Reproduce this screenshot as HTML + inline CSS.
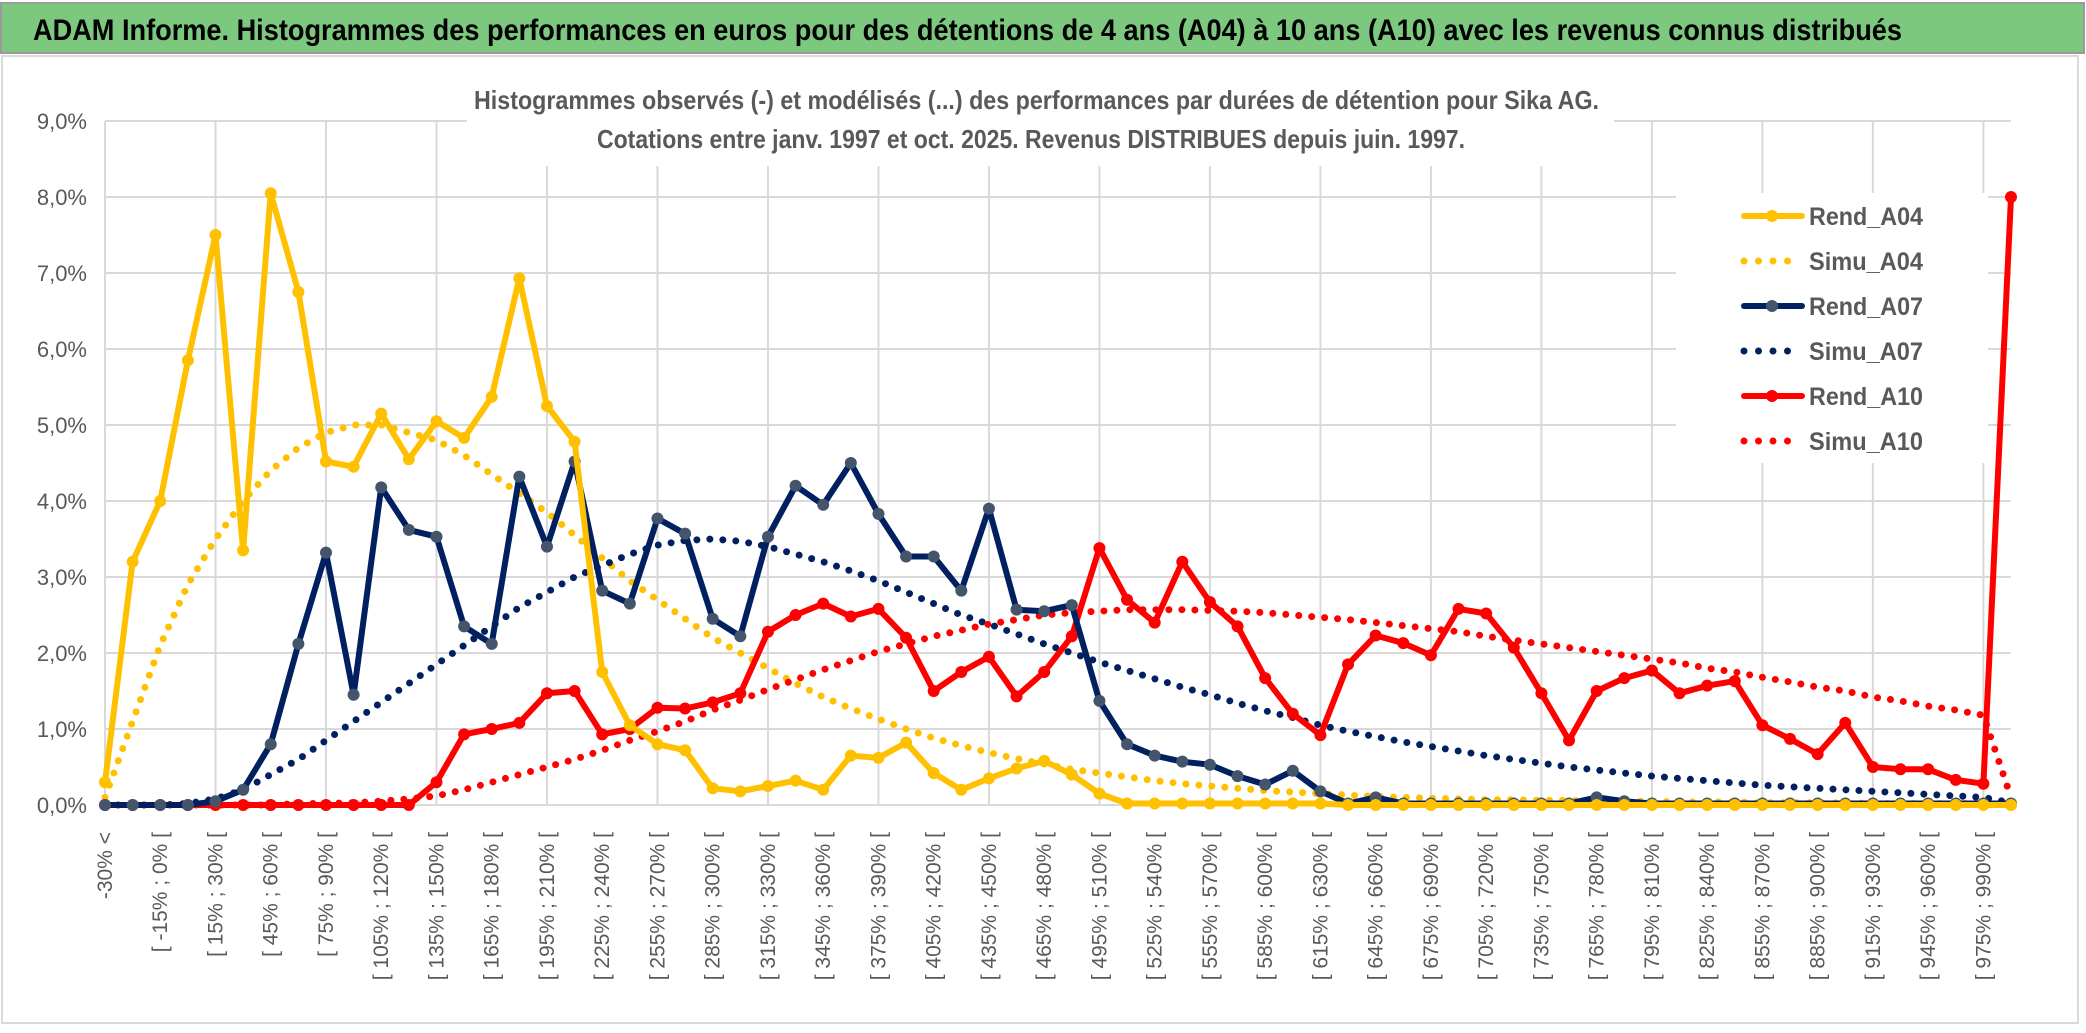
<!DOCTYPE html>
<html><head><meta charset="utf-8"><style>
html,body{margin:0;padding:0;background:#fff;}
svg{display:block;font-family:"Liberation Sans",sans-serif;}
</style></head><body>
<svg id="chart" width="2086" height="1033" viewBox="0 0 2086 1033" xmlns="http://www.w3.org/2000/svg">
<rect x="0" y="0" width="2086" height="1033" fill="#fff"/>
<rect x="1" y="3" width="2083" height="50" fill="#7dc87f" stroke="#9a9a9a" stroke-width="2"/>
<text x="33" y="40" font-size="30" font-weight="bold" fill="#000" textLength="1869" lengthAdjust="spacingAndGlyphs">ADAM Informe. Histogrammes des performances en euros pour des détentions de 4 ans (A04) à 10 ans (A10) avec les revenus connus distribués</text>
<rect x="2" y="56" width="2076" height="967" fill="#fff" stroke="#d9d9d9" stroke-width="2"/>
<g id="grid"></g>
<rect x="467" y="78" width="1147" height="88" fill="#fff"/>
<text x="474" y="109" font-size="26" font-weight="bold" fill="#595959" textLength="1125" lengthAdjust="spacingAndGlyphs">Histogrammes observés (-) et modélisés (...) des performances par durées de détention pour Sika AG.</text>
<text x="597" y="148" font-size="26" font-weight="bold" fill="#595959" textLength="868" lengthAdjust="spacingAndGlyphs">Cotations entre janv. 1997 et oct. 2025. Revenus DISTRIBUES depuis juin. 1997.</text>
<g id="series"></g>
<g id="legend"></g>
<g id="axes"></g>
</svg>
<script>
const categories = (function(){ const c=["-30% <"]; for(let s=-30;s<990;s+=15){c.push("[ "+s+"% ; "+(s+15)+"% [");} c.push(">= 990%"); return c; })();
const yTicks = [0,1,2,3,4,5,6,7,8,9];
const yTickLabels = ["0,0%","1,0%","2,0%","3,0%","4,0%","5,0%","6,0%","7,0%","8,0%","9,0%"];
const rendA04 = [0.3,3.2,4.0,5.85,7.5,3.35,8.05,6.75,4.52,4.45,5.15,4.55,5.05,4.83,5.37,6.93,5.25,4.78,1.75,1.05,0.8,0.72,0.22,0.18,0.25,0.32,0.2,0.65,0.62,0.82,0.42,0.2,0.35,0.48,0.58,0.4,0.15,0.02,0.02,0.02,0.02,0.02,0.02,0.02,0.02,0.0,0.0,0.0,0,0,0,0,0,0,0,0,0,0,0,0,0,0,0,0,0,0,0,0,0,0];
const simuA04 = [0.1,1.1,2.1,2.9,3.5,4.0,4.4,4.7,4.9,5.0,5.0,4.9,4.8,4.6,4.35,4.1,3.85,3.55,3.25,2.95,2.7,2.45,2.2,2.0,1.8,1.6,1.42,1.27,1.13,1.0,0.88,0.78,0.69,0.61,0.54,0.47,0.42,0.37,0.32,0.28,0.25,0.22,0.19,0.17,0.15,0.13,0.11,0.1,0.09,0.08,0.07,0.07,0.06,0.06,0.05,0.05,0.05,0.04,0.04,0.04,0.03,0.03,0.03,0.03,0.02,0.02,0.02,0.02,0.02,0.01];
const rendA07 = [0,0,0,0,0.05,0.2,0.8,2.12,3.32,1.45,4.18,3.62,3.53,2.35,2.12,4.32,3.4,4.52,2.82,2.65,3.77,3.57,2.45,2.22,3.53,4.2,3.95,4.5,3.83,3.27,3.27,2.82,3.9,2.57,2.55,2.63,1.37,0.8,0.65,0.57,0.53,0.38,0.27,0.45,0.18,0.02,0.1,0.02,0.02,0.02,0.02,0.02,0.02,0.02,0.1,0.05,0.02,0.02,0.02,0.02,0.02,0.02,0.02,0.02,0.02,0.02,0.02,0.02,0.02,0.02];
const simuA07 = [0,0,0,0.02,0.08,0.2,0.4,0.6,0.85,1.1,1.35,1.6,1.85,2.1,2.35,2.6,2.8,3.0,3.15,3.3,3.42,3.48,3.5,3.47,3.4,3.3,3.2,3.08,2.95,2.8,2.65,2.5,2.38,2.25,2.12,2.0,1.88,1.77,1.66,1.55,1.45,1.34,1.24,1.15,1.05,0.97,0.9,0.83,0.77,0.71,0.65,0.6,0.55,0.5,0.46,0.42,0.38,0.35,0.32,0.29,0.26,0.24,0.22,0.2,0.18,0.16,0.14,0.12,0.1,0.03];
const rendA10 = [0,0,0,0,0,0,0,0,0,0,0,0,0.3,0.93,1.0,1.08,1.47,1.5,0.93,1.0,1.28,1.27,1.35,1.47,2.28,2.5,2.65,2.48,2.58,2.2,1.5,1.75,1.95,1.43,1.75,2.22,3.38,2.7,2.4,3.2,2.67,2.35,1.67,1.2,0.92,1.85,2.23,2.13,1.97,2.58,2.52,2.07,1.47,0.85,1.5,1.67,1.77,1.47,1.57,1.63,1.05,0.87,0.67,1.08,0.5,0.47,0.47,0.33,0.28,8.0];
const simuA10 = [0,0,0,0,0,0,0,0.02,0.02,0.03,0.05,0.08,0.12,0.2,0.3,0.4,0.5,0.6,0.72,0.85,0.97,1.1,1.25,1.38,1.52,1.65,1.78,1.9,2.02,2.12,2.22,2.3,2.38,2.44,2.5,2.53,2.55,2.57,2.57,2.57,2.56,2.55,2.53,2.5,2.47,2.44,2.4,2.36,2.32,2.28,2.22,2.17,2.12,2.07,2.02,1.97,1.92,1.87,1.8,1.75,1.68,1.62,1.55,1.5,1.42,1.37,1.3,1.25,1.18,0.1];
const seriesNames = ["Rend_A04","Simu_A04","Rend_A07","Simu_A07","Rend_A10","Simu_A10"];

const NS="http://www.w3.org/2000/svg";
const X0=105, X1=2011, Y0=805, YPER=76;
function xAt(i){return X0+i*(X1-X0)/(categories.length-1);}
function yAt(v){return Y0-v*YPER;}
function mk(tag,attrs,parent){const e=document.createElementNS(NS,tag);for(const k in attrs)e.setAttribute(k,attrs[k]);parent.appendChild(e);return e;}

const grid=document.getElementById('grid');
yTicks.forEach(function(t){
  const l=mk('line',{x1:X0,x2:X1,y1:yAt(t),y2:yAt(t),stroke:'#d9d9d9','stroke-width':2},grid);
  
  
});
for(let i=0;i<categories.length;i+=4){
  const l=mk('line',{x1:xAt(i),x2:xAt(i),y1:yAt(9),y2:Y0,stroke:'#d9d9d9','stroke-width':2},grid);
  
  
}

const axes=document.getElementById('axes');
yTicks.forEach(function(t,k){
  const tx=mk('text',{x:87,y:yAt(t)+8,'font-size':22,fill:'#595959','text-anchor':'end'},axes);
  tx.textContent=yTickLabels[k];
  
  
});
for(let i=0;i<categories.length;i+=2){
  const x=xAt(i)+7;
  const tx=mk('text',{x:x,y:832,'font-size':21,fill:'#595959','text-anchor':'end',transform:'rotate(-90 '+x+' 832)'},axes);
  tx.textContent=categories[i];
  
  
}

const sg=document.getElementById('series');
function pts(arr){return arr.map(function(v,i){return xAt(i).toFixed(1)+','+yAt(v).toFixed(1);}).join(' ');}
function dotted(arr,color,name){
  const p=mk('polyline',{points:pts(arr),fill:'none',stroke:color,'stroke-width':7,'stroke-linecap':'round','stroke-linejoin':'round','stroke-dasharray':'0 13'},sg);
  
  
}
function solid(arr,color,mcolor,name){
  const g=mk('g',{},sg);
  
  
  mk('polyline',{points:pts(arr),fill:'none',stroke:color,'stroke-width':6,'stroke-linejoin':'round'},g);
  arr.forEach(function(v,i){
    const c=mk('circle',{cx:xAt(i),cy:yAt(v),r:6,fill:mcolor},g);
    
    
  });
}
dotted(simuA04,'#ffc000','simu-a04-line');
dotted(simuA07,'#002060','simu-a07-line');
dotted(simuA10,'#ff0000','simu-a10-line');
solid(rendA10,'#ff0000','#ff0000','rend-a10-line');
solid(rendA07,'#002060','#44546a','rend-a07-line');
solid(rendA04,'#ffc000','#ffc000','rend-a04-line');

const lg=document.getElementById('legend');
mk('rect',{x:1676,y:193,width:312,height:270,fill:'#fff'},lg);
const legColors=['#ffc000','#ffc000','#002060','#002060','#ff0000','#ff0000'];
const legY=[216,261,306,351,396,441];
seriesNames.forEach(function(n,k){
  const g=mk('g',{},lg);
  
  
  const y=legY[k];
  if(k%2===0){
    mk('line',{x1:1744,x2:1802,y1:y,y2:y,stroke:legColors[k],'stroke-width':6,'stroke-linecap':'round'},g);
    mk('circle',{cx:1772,cy:y,r:6,fill:k===2?'#44546a':legColors[k]},g);
  } else {
    mk('line',{x1:1744,x2:1802,y1:y,y2:y,stroke:legColors[k],'stroke-width':7,'stroke-linecap':'round','stroke-dasharray':'0 14.5'},g);
  }
  const t=mk('text',{x:1809,y:y+9,'font-size':25,'font-weight':'bold',fill:'#595959',textLength:114,lengthAdjust:'spacingAndGlyphs'},g);
  t.textContent=n;
});
</script>
</body></html>
